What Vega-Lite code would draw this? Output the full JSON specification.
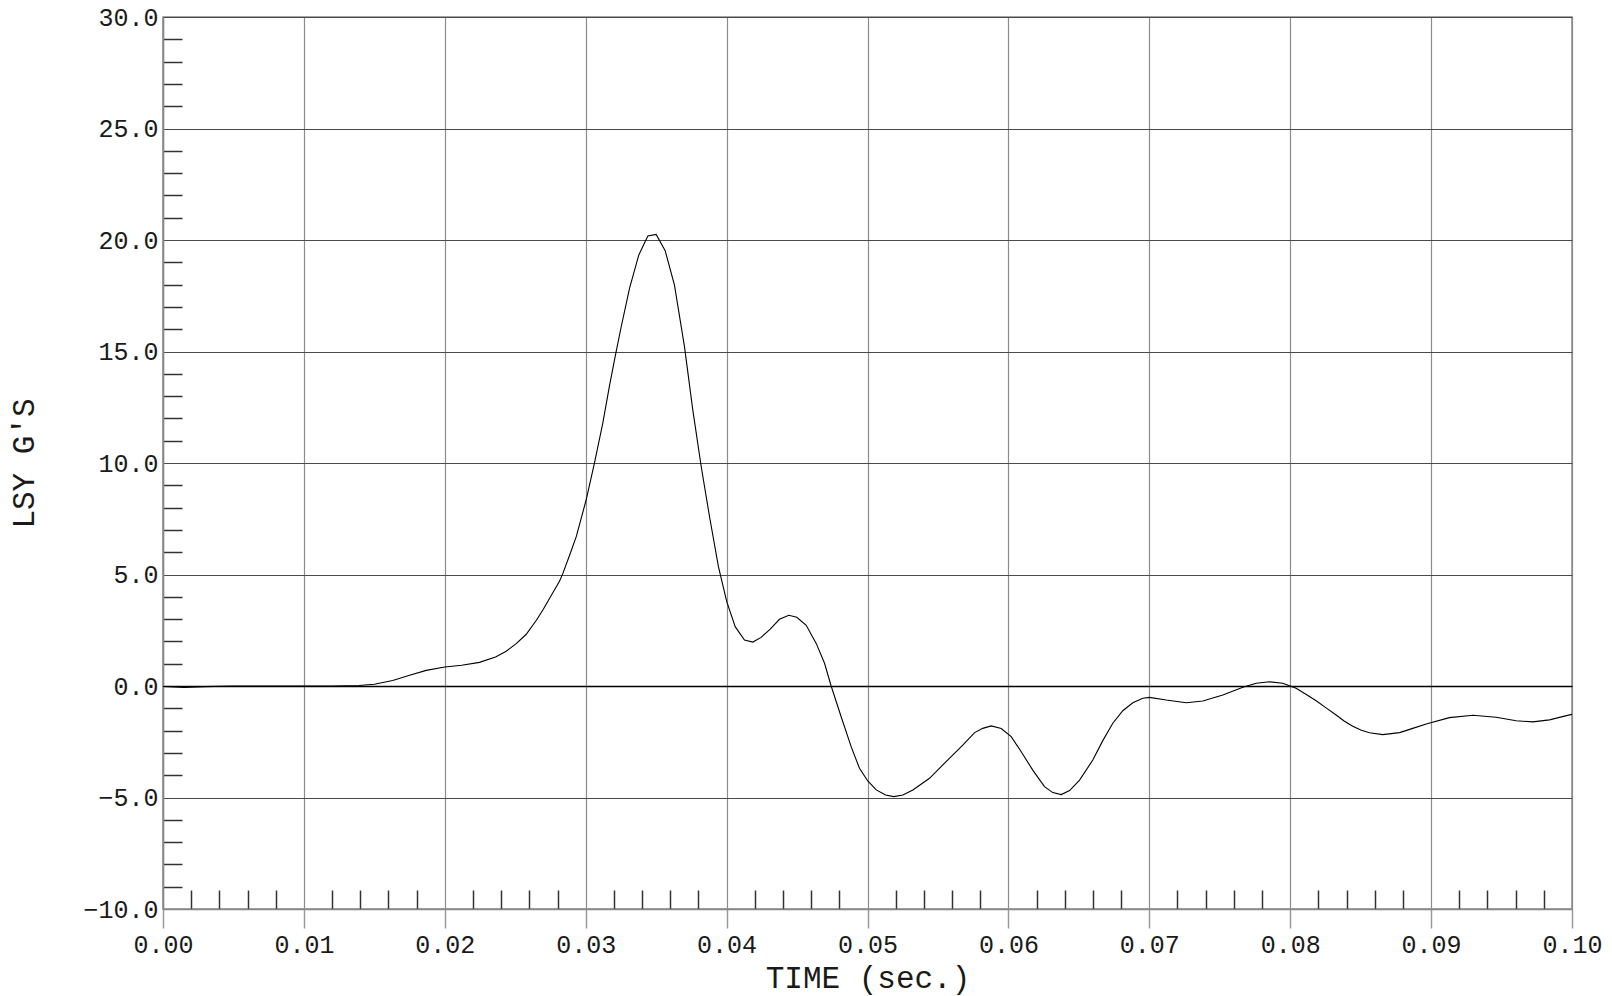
{
  "$schema": "https://vega.github.io/schema/vega-lite/v6.json",
  "width": 1409,
  "height": 892,
  "autosize": "none",
  "padding": {"left": 163, "top": 17, "right": 40, "bottom": 87},
  "background": "white",
  "config": {
    "view": {"stroke": "#888888", "strokeWidth": 1.5},
    "font": "Liberation Mono"
  },
  "data": {
    "values": [
      {"t": 0, "g": -0.02}, {"t": 0.0015, "g": -0.06}, {"t": 0.003, "g": -0.03}, {"t": 0.005, "g": 0.0},
      {"t": 0.008, "g": 0.0}, {"t": 0.012, "g": 0.0}, {"t": 0.0139, "g": 0.02}, {"t": 0.015, "g": 0.08},
      {"t": 0.0163, "g": 0.25}, {"t": 0.0175, "g": 0.48}, {"t": 0.01868, "g": 0.7}, {"t": 0.02, "g": 0.85},
      {"t": 0.0212, "g": 0.93}, {"t": 0.02246, "g": 1.06}, {"t": 0.0236, "g": 1.3}, {"t": 0.02436, "g": 1.56},
      {"t": 0.02507, "g": 1.9}, {"t": 0.02578, "g": 2.32}, {"t": 0.0265, "g": 2.95}, {"t": 0.02696, "g": 3.41},
      {"t": 0.02743, "g": 3.92}, {"t": 0.02814, "g": 4.7}, {"t": 0.02838, "g": 5.05}, {"t": 0.02885, "g": 5.85},
      {"t": 0.02933, "g": 6.7}, {"t": 0.03003, "g": 8.34}, {"t": 0.03062, "g": 9.99}, {"t": 0.03121, "g": 11.78},
      {"t": 0.0317, "g": 13.5}, {"t": 0.03216, "g": 14.99}, {"t": 0.03252, "g": 16.11}, {"t": 0.03311, "g": 17.83},
      {"t": 0.03377, "g": 19.33}, {"t": 0.03441, "g": 20.18}, {"t": 0.035, "g": 20.25}, {"t": 0.03564, "g": 19.52},
      {"t": 0.0363, "g": 17.98}, {"t": 0.03701, "g": 15.22}, {"t": 0.0376, "g": 12.38}, {"t": 0.0382, "g": 9.83},
      {"t": 0.03879, "g": 7.59}, {"t": 0.03942, "g": 5.35}, {"t": 0.04001, "g": 3.78}, {"t": 0.04061, "g": 2.66},
      {"t": 0.04127, "g": 2.06}, {"t": 0.04186, "g": 1.97}, {"t": 0.04245, "g": 2.18}, {"t": 0.0431, "g": 2.55},
      {"t": 0.04375, "g": 2.99}, {"t": 0.04442, "g": 3.17}, {"t": 0.04498, "g": 3.08}, {"t": 0.04565, "g": 2.72},
      {"t": 0.04636, "g": 1.91}, {"t": 0.04695, "g": 1.02}, {"t": 0.04742, "g": 0.0}, {"t": 0.04813, "g": -1.38},
      {"t": 0.04884, "g": -2.72}, {"t": 0.04943, "g": -3.69}, {"t": 0.05002, "g": -4.26}, {"t": 0.05062, "g": -4.66},
      {"t": 0.05128, "g": -4.89}, {"t": 0.05187, "g": -4.96}, {"t": 0.05251, "g": -4.89}, {"t": 0.05322, "g": -4.66},
      {"t": 0.0544, "g": -4.14}, {"t": 0.05558, "g": -3.39}, {"t": 0.05676, "g": -2.65}, {"t": 0.0576, "g": -2.09},
      {"t": 0.05818, "g": -1.9}, {"t": 0.05878, "g": -1.79}, {"t": 0.05949, "g": -1.91}, {"t": 0.0602, "g": -2.27},
      {"t": 0.06091, "g": -2.95}, {"t": 0.06173, "g": -3.77}, {"t": 0.06256, "g": -4.51}, {"t": 0.06315, "g": -4.78},
      {"t": 0.06375, "g": -4.87}, {"t": 0.06434, "g": -4.69}, {"t": 0.06505, "g": -4.22}, {"t": 0.06599, "g": -3.32},
      {"t": 0.0667, "g": -2.45}, {"t": 0.06741, "g": -1.67}, {"t": 0.06812, "g": -1.11}, {"t": 0.06883, "g": -0.75},
      {"t": 0.06954, "g": -0.55}, {"t": 0.07001, "g": -0.51}, {"t": 0.0712, "g": -0.63}, {"t": 0.07262, "g": -0.75},
      {"t": 0.0738, "g": -0.67}, {"t": 0.07522, "g": -0.4}, {"t": 0.07664, "g": -0.06}, {"t": 0.07759, "g": 0.12},
      {"t": 0.07853, "g": 0.19}, {"t": 0.07947, "g": 0.12}, {"t": 0.08042, "g": -0.1}, {"t": 0.0812, "g": -0.4},
      {"t": 0.08184, "g": -0.66}, {"t": 0.08255, "g": -0.98},
      {"t": 0.08326, "g": -1.3}, {"t": 0.08385, "g": -1.58}, {"t": 0.08444, "g": -1.8}, {"t": 0.08505, "g": -1.98}, {"t": 0.08563, "g": -2.1}, {"t": 0.08657, "g": -2.18},
      {"t": 0.08776, "g": -2.09}, {"t": 0.0887, "g": -1.9}, {"t": 0.08965, "g": -1.7}, {"t": 0.0913, "g": -1.42}, {"t": 0.09296, "g": -1.31},
      {"t": 0.09462, "g": -1.4}, {"t": 0.09604, "g": -1.56}, {"t": 0.09722, "g": -1.61}, {"t": 0.0984, "g": -1.52},
      {"t": 0.09947, "g": -1.35}, {"t": 0.1, "g": -1.27}
    ]
  },
  "mark": {"type": "line", "color": "black", "strokeWidth": 1.1, "clip": true},
  "encoding": {
    "x": {
      "field": "t",
      "type": "quantitative",
      "scale": {"domain": [0, 0.1], "nice": false, "zero": false},
      "axis": {
        "title": "TIME (sec.)",
        "values": [0, 0.002, 0.004, 0.006, 0.008, 0.01, 0.012, 0.014, 0.016, 0.018, 0.02, 0.022, 0.024, 0.026, 0.028, 0.03, 0.032, 0.034, 0.036, 0.038, 0.04, 0.042, 0.044, 0.046, 0.048, 0.05, 0.052, 0.054, 0.056, 0.058, 0.06, 0.062, 0.064, 0.066, 0.068, 0.07, 0.072, 0.074, 0.076, 0.078, 0.08, 0.082, 0.084, 0.086, 0.088, 0.09, 0.092, 0.094, 0.096, 0.098, 0.1],
        "labelExpr": "abs(datum.value*100 - round(datum.value*100)) < 0.001 ? format(datum.value, '.2f') : ''",
        "labelFont": "Liberation Mono",
        "labelFontSize": 25,
        "labelColor": "#1a1a1a",
        "labelPadding": 4,
        "labelFlush": false,
        "labelOverlap": false,
        "tickSize": {"expr": "abs(datum.value*100 - round(datum.value*100)) < 0.001 ? 19 : -19"},
        "tickColor": {"expr": "abs(datum.value*100 - round(datum.value*100)) < 0.001 ? '#999999' : '#333333'"},
        "tickWidth": 1.5,
        "grid": true,
        "gridColor": "#8c8c8c",
        "gridWidth": 1.2,
        "gridOpacity": {"expr": "abs(datum.value*100 - round(datum.value*100)) < 0.001 ? 1 : 0"},
        "domainColor": "#888888",
        "domainWidth": 1.5,
        "titleFont": "Liberation Mono",
        "titleFontSize": 31,
        "titleFontWeight": "normal",
        "titleColor": "#1a1a1a",
        "titleBaseline": "alphabetic",
        "titleY": 78
      }
    },
    "y": {
      "field": "g",
      "type": "quantitative",
      "scale": {"domain": [-10, 30], "nice": false, "zero": false},
      "axis": {
        "title": "LSY G'S",
        "values": [-10, -9, -8, -7, -6, -5, -4, -3, -2, -1, 0, 1, 2, 3, 4, 5, 6, 7, 8, 9, 10, 11, 12, 13, 14, 15, 16, 17, 18, 19, 20, 21, 22, 23, 24, 25, 26, 27, 28, 29, 30],
        "labelExpr": "datum.value % 5 === 0 ? format(datum.value, '.1f') : ''",
        "labelFont": "Liberation Mono",
        "labelFontSize": 25,
        "labelColor": "#1a1a1a",
        "labelPadding": 5,
        "labelFlush": false,
        "labelOverlap": false,
        "tickSize": {"expr": "datum.value % 5 === 0 ? 0 : -19"},
        "tickColor": "#333333",
        "tickWidth": 1.5,
        "grid": true,
        "gridColor": {"expr": "datum.value === 0 ? '#000000' : '#4a4a4a'"},
        "gridWidth": {"expr": "datum.value === 0 ? 1.6 : 1.2"},
        "gridOpacity": {"expr": "datum.value % 5 === 0 ? 1 : 0"},
        "domainColor": "#888888",
        "domainWidth": 1.5,
        "titleFont": "Liberation Mono",
        "titleFontSize": 31,
        "titleFontWeight": "normal",
        "titleColor": "#1a1a1a",
        "titleAngle": -90,
        "titleBaseline": "middle",
        "titleAlign": "center",
        "titleX": -139,
        "titleY": 446
      }
    }
  }
}
